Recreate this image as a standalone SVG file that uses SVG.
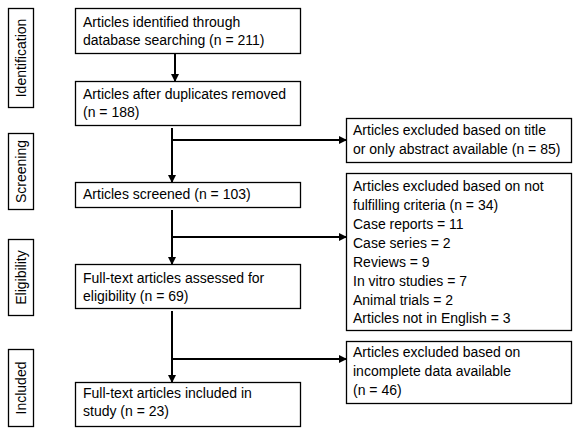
<svg xmlns="http://www.w3.org/2000/svg" width="586" height="431" viewBox="0 0 586 431">
<style>
.box{fill:#fff;stroke:#000;stroke-width:1.3}
text{font-family:"Liberation Sans",Arial,sans-serif;font-size:14px;fill:#000}
.side{text-anchor:middle}
.ln{stroke:#000;stroke-width:2;fill:none}
</style>
<defs>
<marker id="ah" markerWidth="8" markerHeight="8" refX="7" refY="4" orient="auto" markerUnits="userSpaceOnUse">
<path d="M0,0 L8,4 L0,8 Z" fill="#000"/>
</marker>
</defs>
<rect width="586" height="431" fill="#fff"/>
<g id="stage-identification"><rect class="box" x="8.5" y="8.5" width="25" height="99"/><text class="side" transform="translate(26,58) rotate(-90)">Identification</text></g>
<g id="stage-screening"><rect class="box" x="8.5" y="133.5" width="25" height="76"/><text class="side" transform="translate(26,171.5) rotate(-90)">Screening</text></g>
<g id="stage-eligibility"><rect class="box" x="8.5" y="239.5" width="25" height="76"/><text class="side" transform="translate(26,277.5) rotate(-90)">Eligibility</text></g>
<g id="stage-included"><rect class="box" x="8.5" y="349.5" width="25" height="77"/><text class="side" transform="translate(26,388) rotate(-90)">Included</text></g>

<g id="identified"><rect class="box" x="75.5" y="8.5" width="225" height="45"/><text x="83" y="27">Articles identified through</text><text x="83" y="45">database searching (n = 211)</text></g>
<g id="deduplicated"><rect class="box" x="75.5" y="81.5" width="225" height="44"/><text x="83" y="99">Articles after duplicates removed</text><text x="83" y="117">(n = 188)</text></g>
<g id="screened"><rect class="box" x="75.5" y="182.5" width="225" height="25"/><text x="83" y="199">Articles screened (n = 103)</text></g>
<g id="fulltext"><rect class="box" x="75.5" y="264.5" width="225" height="44"/><text x="83" y="283">Full-text articles assessed for</text><text x="83" y="301">eligibility (n = 69)</text></g>
<g id="included"><rect class="box" x="75.5" y="382.5" width="225" height="44"/><text x="83" y="398">Full-text articles included in</text><text x="83" y="416">study (n = 23)</text></g>

<g id="excluded-title"><rect class="box" x="346.5" y="118.5" width="225" height="44"/><text x="353" y="135">Articles excluded based on title</text><text x="353" y="154">or only abstract available (n = 85)</text></g>
<g id="excluded-criteria"><rect class="box" x="346.5" y="173.5" width="225" height="157"/>
<text x="353" y="191">Articles excluded based on not</text>
<text x="353" y="210">fulfilling criteria (n = 34)</text>
<text x="353" y="229">Case reports = 11</text>
<text x="353" y="248">Case series = 2</text>
<text x="353" y="267">Reviews = 9</text>
<text x="353" y="286">In vitro studies = 7</text>
<text x="353" y="305">Animal trials = 2</text>
<text x="353" y="323">Articles not in English = 3</text></g>
<g id="excluded-data"><rect class="box" x="346.5" y="341.5" width="225" height="62"/><text x="353" y="357">Articles excluded based on</text><text x="353" y="376">incomplete data available</text><text x="353" y="395">(n = 46)</text></g>

<g id="connectors">
<line class="ln" x1="175" y1="54" x2="175" y2="81" marker-end="url(#ah)"/>
<line class="ln" x1="172" y1="128" x2="172" y2="182" marker-end="url(#ah)"/>
<line class="ln" x1="172" y1="140" x2="346" y2="140" marker-end="url(#ah)"/>
<line class="ln" x1="172" y1="210" x2="172" y2="264" marker-end="url(#ah)"/>
<line class="ln" x1="172" y1="237" x2="346" y2="237" marker-end="url(#ah)"/>
<line class="ln" x1="172" y1="311" x2="172" y2="382" marker-end="url(#ah)"/>
<line class="ln" x1="172" y1="359" x2="346" y2="359" marker-end="url(#ah)"/>
</g>
</svg>
